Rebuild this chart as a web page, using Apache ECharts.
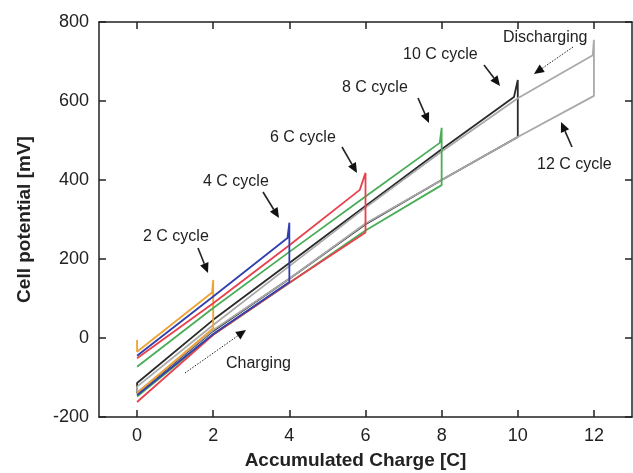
<!DOCTYPE html>
<html><head><meta charset="utf-8">
<script src="https://cdn.jsdelivr.net/npm/echarts@6/dist/echarts.min.js"></script>
<style>html,body{margin:0;padding:0;background:#fff}#c{width:633px;height:473px}</style>
</head><body><div id="c"></div>
<script>
// ---- data ----
const xTicks = [0, 2, 4, 6, 8, 10, 12];
const yTicks = [-200, 0, 200, 400, 600, 800];
const chargeX = [0, 2, 4, 6, 8, 10, 12];
const cycleNames = ['2 C cycle', '4 C cycle', '6 C cycle', '8 C cycle', '10 C cycle', '12 C cycle'];
const cycleEnd = [2, 4, 6, 8, 10, 12];
// charging branch values at chargeX
const charging2C = [-140, 25];
const charging4C = [-145, 10, 142];
const charging6C = [-162, 8, 140, 267];
const charging8C = [-148, 8, 139, 272, 387];
const charging10C = [-140, 18, 150, 288, 400, 509];
const charging12C = [-138, 20, 150, 290, 400, 509, 613];
// spike at end of charge, then discharge start
const peakValue = [147, 292, 418, 532, 653, 755];
const dischargeStartX = [1.97, 3.95, 5.85, 7.95, 9.9, 11.97];
const dischargeStart = [115, 253, 375, 494, 610, 716];
// discharging branch values at chargeX (ascending x, excluding end)
const discharging2C = [-35];
const discharging4C = [-45, 105];
const discharging6C = [-51, 88, 235];
const discharging8C = [-73, 76, 218, 358];
const discharging10C = [-114, 46, 190, 334, 478];
const discharging12C = [-123, 33, 182, 330, 472, 607];
const restSpike2C = -5;

const chargingAll = [charging2C, charging4C, charging6C, charging8C, charging10C, charging12C];
const dischargingAll = [discharging2C, discharging4C, discharging6C, discharging8C, discharging10C, discharging12C];

// ---- styling ----
const colors = ['#f0a332', '#2f3fae', '#e8404c', '#49ad57', '#2a2a2a', '#a9a9a9'];
const FONT = '"Liberation Sans", Arial, sans-serif';

function cycleData(i) {
  const pts = [];
  const ch = chargingAll[i], dis = dischargingAll[i];
  for (let k = 0; k < ch.length; k++) pts.push([chargeX[k], ch[k]]);
  pts.push([cycleEnd[i], peakValue[i]]);
  pts.push([dischargeStartX[i], dischargeStart[i]]);
  for (let k = dis.length - 1; k >= 0; k--) pts.push([chargeX[k], dis[k]]);
  if (i === 0) pts.push([chargeX[0], restSpike2C]);
  if (i >= 4) pts.push([chargeX[0], ch[0]]);
  return pts;
}

const order = [4, 5, 0, 3, 2, 1];
const series = order.map(i => ({
  type: 'line', name: cycleNames[i], data: cycleData(i),
  showSymbol: false, symbol: 'none', animation: false,
  lineStyle: { color: colors[i], width: 1.8 },
  xAxisIndex: 0, yAxisIndex: 0
}));

const chart = echarts.init(document.getElementById('c'), null, { renderer: 'canvas' });

const axisLineStyle = { onZero: false, lineStyle: { color: '#222', width: 1.5 } };
const tickStyle = { inside: true, length: 7, lineStyle: { color: '#222', width: 1.5 } };

function text(str, left, cy) {
  return { type: 'text', left: left, top: cy - 9, z: 100,
    style: { text: str, font: '16px ' + FONT, fill: '#222' } };
}
function arrow(x1, y1, x2, y2, dotted) {
  const dx = x2 - x1, dy = y2 - y1, L = Math.hypot(dx, dy);
  const ux = dx / L, uy = dy / L, px = -uy, py = ux;
  const hl = 10, hw = 4.5;
  const bx = x2 - ux * hl, by = y2 - uy * hl;
  return [
    { type: 'line', z: 100, shape: { x1: x1, y1: y1, x2: bx, y2: by },
      style: { stroke: '#222', lineWidth: dotted ? 1 : 1.6, lineDash: dotted ? [1.5, 1.5] : null } },
    { type: 'polygon', z: 100, shape: { points: [[x2, y2], [bx + px * hw, by + py * hw], [bx - px * hw, by - py * hw]] },
      style: { fill: '#111' } }
  ];
}

const graphics = [
  text(cycleNames[0], 143, 238),
  text(cycleNames[1], 203, 183),
  text(cycleNames[2], 270, 139),
  text(cycleNames[3], 342, 89),
  text(cycleNames[4], 403, 56),
  text('Discharging', 503, 39),
  text(cycleNames[5], 537, 166),
  text('Charging', 226, 365),
  ...arrow(198, 248, 208, 273),
  ...arrow(263, 192, 279, 218),
  ...arrow(342, 147, 357, 173),
  ...arrow(418, 98, 429, 123),
  ...arrow(484, 65, 500, 86),
  ...arrow(572, 147, 561, 122),
  ...arrow(573, 47, 534, 74, true),
  ...arrow(185, 373, 246, 330, true)
];

chart.setOption({
  animation: false,
  backgroundColor: '#fff',
  grid: { left: 99, right: 1, top: 22, bottom: 56, containLabel: false, outerBoundsMode: 'none' },
  xAxis: [{
    type: 'value', min: -1, max: 13, position: 'bottom',
    name: 'Accumulated Charge [C]', nameLocation: 'middle', nameGap: 34,
    nameTextStyle: { fontFamily: FONT, fontWeight: 'bold', fontSize: 19, color: '#222', padding: [0, 20, 0, 0] },
    axisLine: axisLineStyle,
    axisTick: Object.assign({ customValues: xTicks }, tickStyle),
    axisLabel: { customValues: xTicks, fontFamily: FONT, fontSize: 18, color: '#222', margin: 10 },
    splitLine: { show: false }
  }, {
    type: 'value', min: -1, max: 13, position: 'top',
    axisLine: axisLineStyle,
    axisTick: Object.assign({ customValues: xTicks }, tickStyle),
    axisLabel: { show: false, customValues: xTicks },
    splitLine: { show: false }
  }],
  yAxis: [{
    type: 'value', min: -200, max: 800, interval: 200, position: 'left',
    name: 'Cell potential [mV]', nameLocation: 'middle', nameGap: 65,
    nameTextStyle: { fontFamily: FONT, fontWeight: 'bold', fontSize: 19, color: '#222' },
    axisLine: axisLineStyle,
    axisTick: tickStyle,
    axisLabel: { fontFamily: FONT, fontSize: 18, color: '#222', margin: 10,
      customValues: yTicks },
    splitLine: { show: false }
  }, {
    type: 'value', min: -200, max: 800, interval: 200, position: 'right',
    axisLine: axisLineStyle,
    axisTick: tickStyle,
    axisLabel: { show: false },
    splitLine: { show: false }
  }],
  series: series,
  graphic: graphics
});
</script>
</body></html>
